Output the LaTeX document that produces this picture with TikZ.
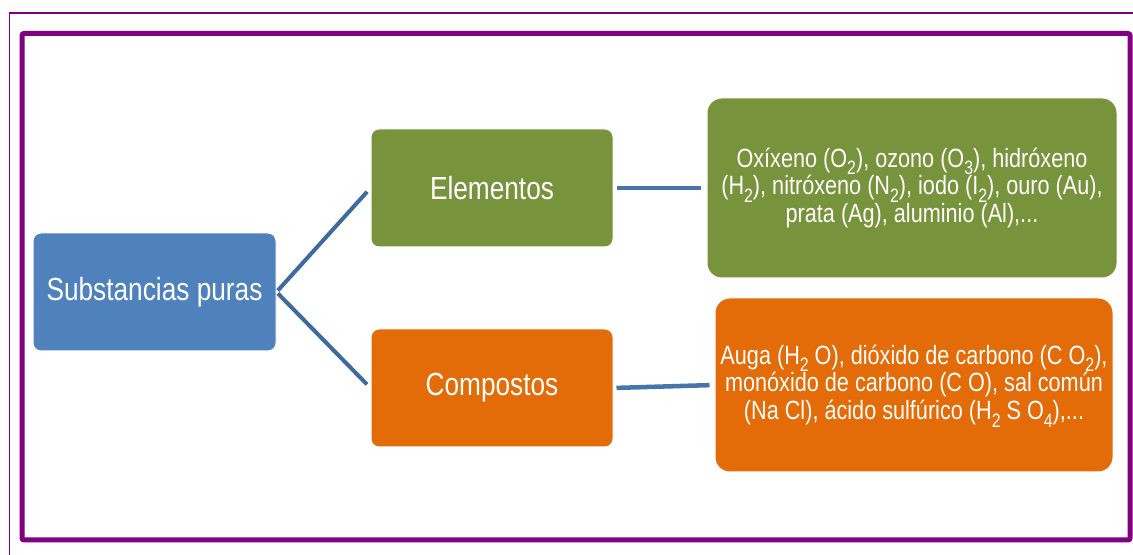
\documentclass[tikz,border=0pt]{standalone}
\usepackage{fontspec}
\setmainfont{Liberation Sans}[FakeStretch=0.82]
\definecolor{boxBlue}{RGB}{79,129,189}
\definecolor{boxGreen}{RGB}{119,147,60}
\definecolor{boxOrange}{RGB}{227,108,9}
\definecolor{linkBlue}{RGB}{63,106,158}
\definecolor{frameViolet}{RGB}{128,0,128}
\newcommand{\chemsub}[1]{\smash{\raisebox{-5.5pt}{\fontsize{14.5}{14.5}\selectfont #1}}}
\tikzset{every picture/.style={line width=0.75pt}}
\tikzset{
  mainbox/.style={draw=white, line width=0.75, rounded corners=6pt, text=white, inner sep=0.75pt,
    font=\fontsize{24}{28}\selectfont, minimum height=88.5pt},
  listbox/.style={draw=white, line width=0.75, rounded corners=11pt, text=white, inner sep=0.75pt,
    align=center, font=\fontsize{19.8}{20.8}\selectfont},
  link/.style={color=linkBlue, line width=3},
}

\begin{document}
\begin{tikzpicture}[x=0.75pt,y=0.75pt,yscale=-1,xscale=1]
%set diagram left start at 0, and has height of 555
\useasboundingbox (0,0) rectangle (1133,555);
\clip (0,0) rectangle (1133,555);
%Frames
\draw [color=frameViolet, line width=1.1]   (9.5,13) rectangle (1160,580);
\draw [color=frameViolet, line width=3.75, rounded corners=1.5pt]   (22,33.5) rectangle (1130,540);

% Rounded Rect
\node [mainbox, fill=boxBlue, minimum width=182.25pt] (pure) at (154.5,292) {Substancias puras};
% Rounded Rect
\node [mainbox, fill=boxGreen, minimum width=181.5pt] (elem) at (492,188) {Elementos};
% Rounded Rect
\node [mainbox, fill=boxOrange, minimum width=181.5pt] (comp) at (492,388) {Compostos};
% Rounded Rect
\node [listbox, fill=boxGreen, minimum width=307.5pt, minimum height=135pt] (elemlist) at (912,188)
  {Oxíxeno (O\chemsub{2}), ozono (O\chemsub{3}), hidróxeno\\
   (H\chemsub{2}), nitróxeno (N\chemsub{2}), iodo (I\chemsub{2}), ouro (Au),\\
   prata (Ag), aluminio (Al),...};
% Rounded Rect
\node [listbox, fill=boxOrange, minimum width=298.5pt, minimum height=130.5pt] (complist) at (914,385)
  {Auga (H\chemsub{2} O), dióxido de carbono (C O\chemsub{2}),\\
   monóxido de carbono (C O), sal común\\
   (Na Cl), ácido sulfúrico (H\chemsub{2} S O\chemsub{4}),...};

%Straight Lines
\draw [link, shorten <=1.5pt, shorten >=3.75pt]   (pure.east) -- (elem.west) ;
%Straight Lines
\draw [link, shorten <=1.5pt, shorten >=3.75pt]   (pure.east) -- (comp.west) ;
%Straight Lines
\draw [link, color=boxBlue!90!black, line width=3.4, shorten <=2.25pt, shorten >=4.5pt]   (elem.east) -- (elemlist.west) ;
%Straight Lines
\draw [link, color=boxBlue!90!black, line width=3.4, shorten <=2.25pt, shorten >=3.75pt]   (comp.east) -- (complist.west) ;
\end{tikzpicture}
\end{document}
